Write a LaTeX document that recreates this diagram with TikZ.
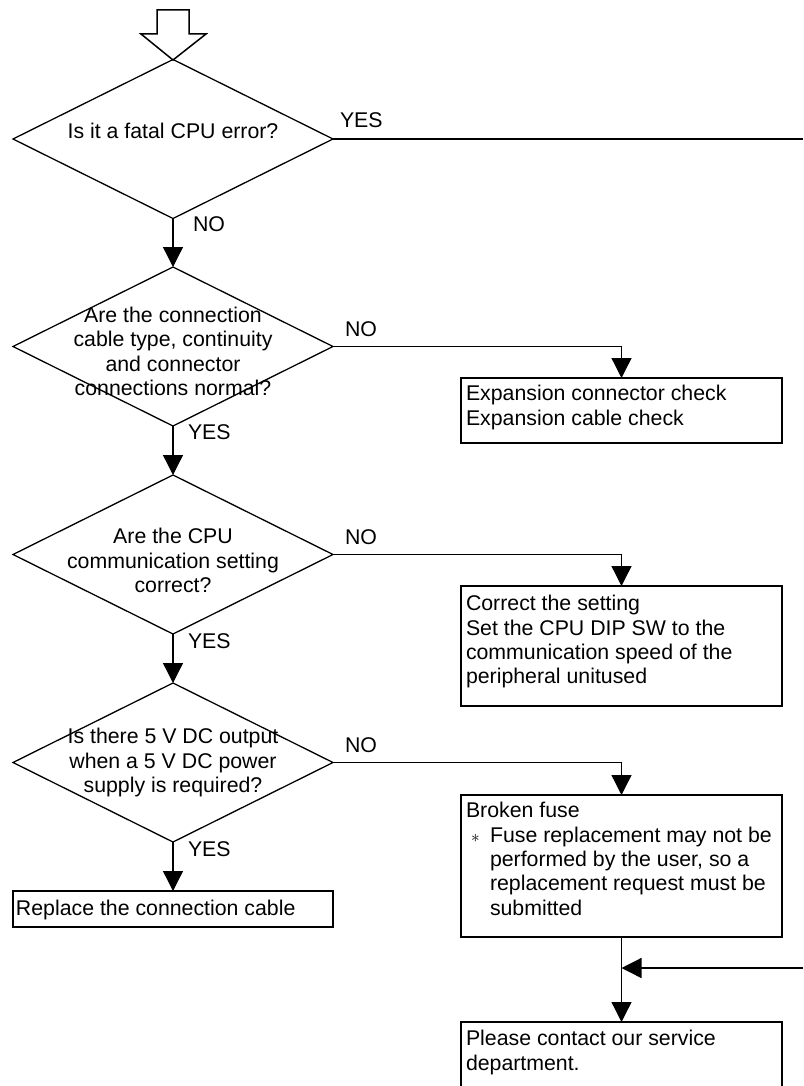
\documentclass[tikz,border=0pt]{standalone}
\usepackage{fontspec}
\setmainfont{Liberation Sans}
\usetikzlibrary{shapes.geometric,arrows.meta}
\begin{document}
\begin{tikzpicture}[x=1pt,y=-1pt,
  every node/.style={font=\fontsize{21.3}{24.3}\selectfont, inner sep=0pt, outer sep=0pt},
  dia/.style={draw, diamond, minimum width=320pt, minimum height=159pt, line width=1.3pt},
  box/.style={draw, rectangle, line width=1.8pt, anchor=north west},
  lbl/.style={anchor=base west},
  qtext/.style={align=center},
  btext/.style={align=left, anchor=north west},
  link/.style={line width=1.3pt},
  arr/.style={link, -{Triangle[length=20pt,width=20pt]}},
]
\useasboundingbox (0,0) rectangle (803,1086);
\clip (0,0) rectangle (803,1086);

% start arrow
\draw[line width=1.5pt, line join=miter] (157,10) -- (189,10) -- (189,34) -- (206,34) -- (173,60) -- (141,34) -- (157,34) -- cycle;

% decisions
\node[dia] (d1) at (173,139) {};
\node[dia] (d2) at (173,346.5) {};
\node[dia] (d3) at (173,554.5) {};
\node[dia] (d4) at (173,762.5) {};

\node[qtext] (t1) at (173,131) {Is it a fatal CPU error?};
\node[qtext] (t2) at (173,351.5) {Are the connection\\cable type, continuity\\and connector\\connections normal?};
\node[qtext] (t3) at (173,560.5) {Are the CPU\\communication setting\\correct?};
\node[qtext] (t4) at (173,762.5) {Is there 5 V DC output\\when a 5 V DC power\\supply is required?};

% boxes
\node[box, minimum width=321pt, minimum height=65pt] (b1) at (461,378) {};
\node[box, minimum width=321pt, minimum height=120pt] (b2) at (461,586) {};
\node[box, minimum width=321pt, minimum height=142pt] (b3) at (461,795) {};
\node[box, minimum width=320pt, minimum height=36pt] (b4) at (13,891) {};
\node[box, minimum width=321pt, minimum height=90pt] (b5) at (461,1022) {};

\node[btext] (x1) at (466,385.5) {Expansion connector check\\Expansion cable check};
\node[btext] (x2) at (466,595.5) {Correct the setting\\Set the CPU DIP SW to the\\communication speed of the\\peripheral unitused};
\node[btext] (x3) at (466,802.5) {Broken fuse\\\makebox[24pt][l]{\hspace{5pt}{\fontsize{19}{19}\selectfont$\ast$}}Fuse replacement may not be\\\hspace*{24pt}performed by the user, so a\\\hspace*{24pt}replacement request must be\\\hspace*{24pt}submitted};
\node[lbl] (x4) at (16,915) {Replace the connection cable};
\node[btext] (x5) at (466,1030.5) {Please contact our service\\department.};

% labels
\node[lbl] (l1) at (340,128) {YES};
\node[lbl] (l2) at (193,231) {NO};
\node[lbl] (l3) at (345,336) {NO};
\node[lbl] (l4) at (188,439) {YES};
\node[lbl] (l5) at (345,544) {NO};
\node[lbl] (l6) at (188,648) {YES};
\node[lbl] (l7) at (345,752) {NO};
\node[lbl] (l8) at (188,856) {YES};

% connectors
\coordinate (eT) at (803,139);
\coordinate (eB) at (803,968);
\draw[link] (d1.east) -- (eT);
\draw[arr] (d1.south) -- (d2.north);
\draw[arr] (d2.east) -| (b1.north);
\draw[arr] (d2.south) -- (d3.north);
\draw[arr] (d3.east) -| (b2.north);
\draw[arr] (d3.south) -- (d4.north);
\draw[arr] (d4.east) -| (b3.north);
\draw[arr] (d4.south) -- (b4.north);
\draw[arr] (b3.south) -- (b5.north);
\draw[arr] (eB) -- (eB -| b3.south);
\end{tikzpicture}
\end{document}
